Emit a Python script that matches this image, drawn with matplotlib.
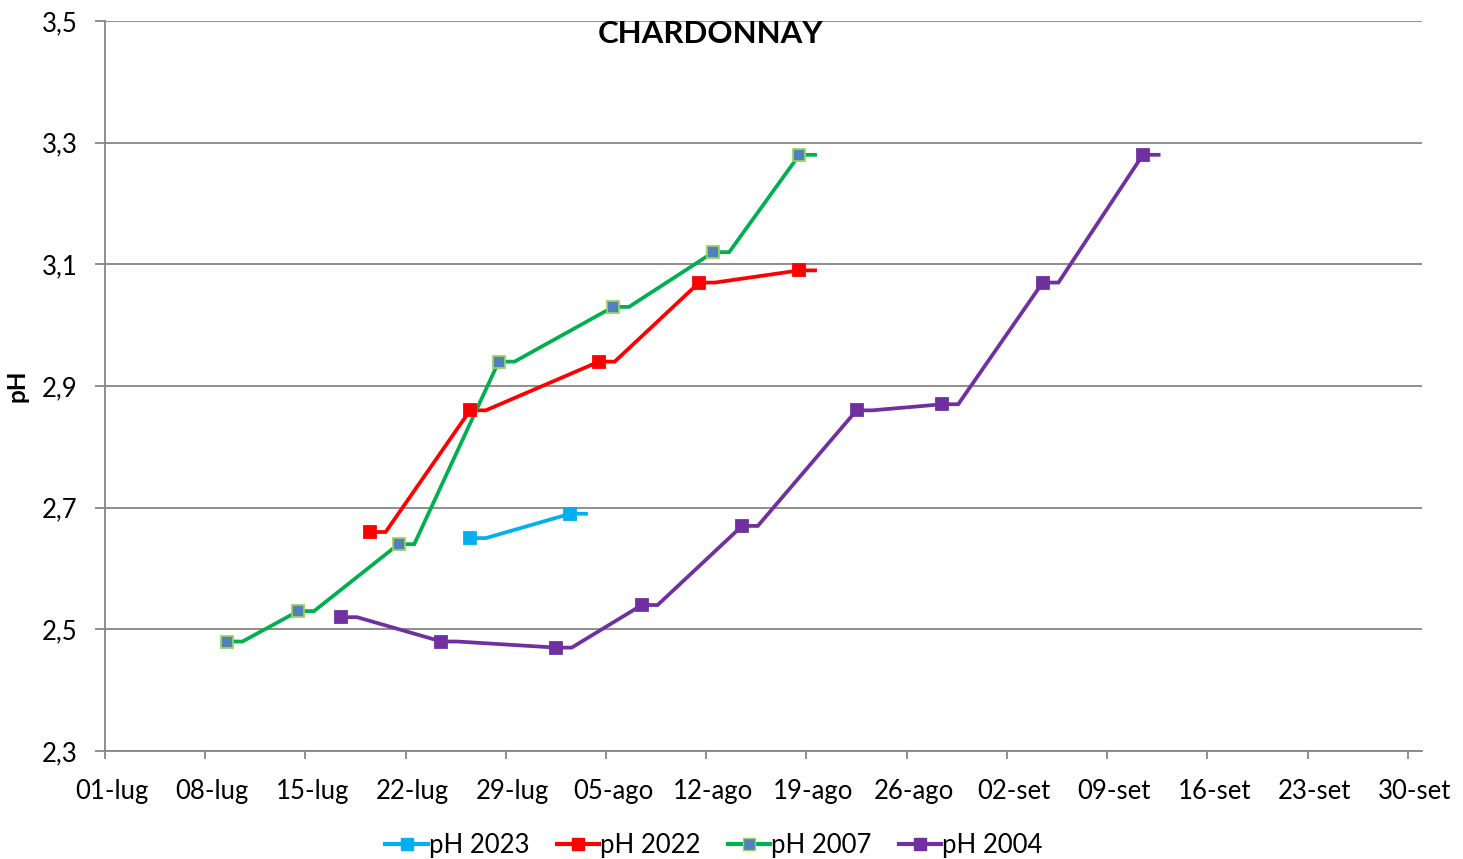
import datetime as dt
import numpy as np
import matplotlib
matplotlib.use('Agg')
import matplotlib.pyplot as plt
import matplotlib.transforms as mtransforms
from matplotlib.lines import Line2D

plt.rcParams['font.family'] = ['Lato', 'DejaVu Sans']

# Sampling dates (day-month) and pH readings
dates_2023 = ['26-07', '02-08']
ph_2023 = [2.65, 2.69]

dates_2022 = ['19-07', '26-07', '04-08', '11-08', '18-08']
ph_2022 = [2.66, 2.86, 2.94, 3.07, 3.09]

dates_2007 = ['09-07', '14-07', '21-07', '28-07', '05-08', '12-08', '18-08']
ph_2007 = [2.48, 2.53, 2.64, 2.94, 3.03, 3.12, 3.28]

dates_2004 = ['17-07', '24-07', '01-08', '07-08', '14-08', '22-08', '28-08', '04-09', '11-09']
ph_2004 = [2.52, 2.48, 2.47, 2.54, 2.67, 2.86, 2.87, 3.07, 3.28]

tick_labels = ['01-lug', '08-lug', '15-lug', '22-lug', '29-lug', '05-ago', '12-ago',
               '19-ago', '26-ago', '02-set', '09-set', '16-set', '23-set', '30-set']
y_ticks = [2.3, 2.5, 2.7, 2.9, 3.1, 3.3, 3.5]

START = dt.date(2001, 7, 1)


def to_days(labels):
    """Days since 1 July (common non-leap year)."""
    out = []
    for s in labels:
        d, m = s.split('-')
        out.append((dt.date(2001, int(m), int(d)) - START).days)
    return np.array(out, dtype=float)


def draw_series(ax, dates, values, color, face=None, edge=None):
    # Excel centres each point in its day and draws a short tail after it
    x = to_days(dates) + 0.5
    y = np.array(values)
    lx = np.column_stack([x, x + 1.1]).ravel()
    ly = np.column_stack([y, y]).ravel()
    ax.plot(lx, ly, color=color, lw=2.7, solid_joinstyle='miter', zorder=3)
    ax.plot(x, y, ls='none', marker='s', ms=8, mfc=face or color,
            mec=edge or color, mew=1.3, zorder=4)


fig = plt.figure(figsize=(14.63, 8.59), dpi=100)
ax = fig.add_axes([0.0718, 0.1257, 0.9002, 0.8499])

draw_series(ax, dates_2023, ph_2023, '#00B0F0')
draw_series(ax, dates_2022, ph_2022, '#FF0000')
draw_series(ax, dates_2007, ph_2007, '#00B050', face='#4F81BD', edge='#9BD35A')
draw_series(ax, dates_2004, ph_2004, '#7030A0')

ax.set_xlim(0, 92)
ax.set_ylim(2.3, 3.5)
ax.set_xticks(np.arange(len(tick_labels)) * 7)
ax.set_xticklabels(tick_labels)
ax.set_yticks(y_ticks)
ax.set_yticklabels([f'{v:.1f}'.replace('.', ',') for v in y_ticks])

grey = '#868686'
ax.grid(axis='y', color=grey, lw=1.3)
ax.set_axisbelow(True)
for s in ['top', 'right']:
    ax.spines[s].set_visible(False)
for s in ['left', 'bottom']:
    ax.spines[s].set_color(grey)
    ax.spines[s].set_linewidth(1.3)
ax.tick_params(axis='y', length=7, width=1.3, color=grey, labelsize=18.5, pad=13)
ax.tick_params(axis='x', length=6, width=1.3, color=grey, labelsize=18.5, pad=14)

# x labels sit half a day to the right of their tick
offset = mtransforms.ScaledTranslation(7 / 100, 0, fig.dpi_scale_trans)
for lab in ax.get_xticklabels():
    lab.set_transform(lab.get_transform() + offset)

ax.set_ylabel('pH', fontsize=17.5, fontweight='bold')
ax.yaxis.set_label_coords(-0.058, 0.5)
fig.text(711 / 1463, 1 - 34 / 859, 'CHARDONNAY', ha='center', va='center',
         fontsize=22.5, fontweight='bold')

handles = [
    Line2D([], [], color='#00B0F0', lw=3, marker='s', ms=8),
    Line2D([], [], color='#FF0000', lw=3, marker='s', ms=8),
    Line2D([], [], color='#00B050', lw=3, marker='s', ms=8, mfc='#4F81BD', mec='#9BD35A'),
    Line2D([], [], color='#7030A0', lw=3, marker='s', ms=8),
]
fig.legend(handles, ['pH 2023', 'pH 2022', 'pH 2007', 'pH 2004'], ncol=4,
           loc='center', bbox_to_anchor=(714 / 1463, 1 - 845 / 859), frameon=False,
           fontsize=18.5, handlelength=1.65, handletextpad=0.05, columnspacing=1.05)

fig.savefig('out.png', dpi=100)
